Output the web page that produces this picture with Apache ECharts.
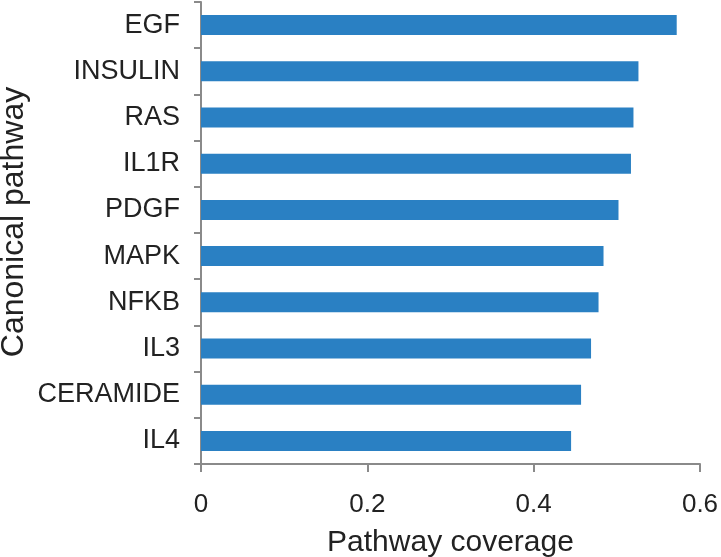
<!DOCTYPE html>
<html>
<head>
<meta charset="utf-8">
<script src="https://cdn.jsdelivr.net/npm/echarts@6/dist/echarts.min.js"></script>
<style>
	html, body { margin: 0; padding: 0; background: #fff; }
	#chart-container { width: 721px; height: 557px; }
</style>
</head>
<body>
<div id="chart-container"></div>
<script>
// categories listed bottom to top (category axis on y starts at the bottom)
const pathways = ['IL4', 'CERAMIDE', 'IL3', 'NFKB', 'MAPK', 'PDGF', 'IL1R', 'RAS', 'INSULIN', 'EGF'];
const coverage = [0.445, 0.457, 0.469, 0.478, 0.484, 0.502, 0.517, 0.52, 0.526, 0.572];
const xTicks = [0, 0.2, 0.4, 0.6];

let dom = document.getElementById('chart-container');
let myChart = echarts.init(dom, null, {
	renderer: 'canvas',
	useDirtyRect: false,
});

const axisGray = '#8a8a8a';
const textColor = '#222';
const fontFamily = '"Liberation Sans", Arial, sans-serif';

let option = {
	animation: false,
	textStyle: { fontFamily: fontFamily },
	grid: {
		left: 201,
		right: 21,
		top: 2,
		bottom: 93,
		containLabel: false,
		outerBoundsMode: 'none',
	},
	xAxis: {
		type: 'value',
		min: xTicks[0],
		max: xTicks[xTicks.length - 1],
		interval: 0.2,
		name: 'Pathway coverage',
		nameLocation: 'middle',
		nameGap: 64,
		nameMoveOverlap: false,
		nameTextStyle: { fontSize: 30, color: textColor, fontFamily: fontFamily },
		axisLine: { show: true, lineStyle: { color: axisGray, width: 2 } },
		axisTick: { show: true, length: 8, inside: false, lineStyle: { color: axisGray, width: 2 } },
		splitLine: { show: false },
		axisLabel: {
			fontSize: 26,
			color: textColor,
			margin: 28,
			fontFamily: fontFamily,
			formatter: function (v) {
				return v === 0 ? '0' : v.toFixed(1);
			},
		},
	},
	yAxis: {
		type: 'category',
		data: pathways,
		name: 'Canonical pathway',
		nameLocation: 'middle',
		nameGap: 171,
		nameMoveOverlap: false,
		nameTextStyle: {
			fontSize: 32,
			color: textColor,
			fontFamily: fontFamily,
			padding: [0, 0, 0, 22],
		},
		axisLine: { show: true, lineStyle: { color: axisGray, width: 2 } },
		axisTick: { show: true, length: 7, alignWithLabel: false, lineStyle: { color: axisGray, width: 2 } },
		axisLabel: { fontSize: 27, color: textColor, margin: 21, fontFamily: fontFamily },
	},
	series: [
		{
			type: 'bar',
			data: coverage,
			barWidth: 20,
			itemStyle: { color: '#2a80c3' },
		},
	],
};

myChart.setOption(option);
window.addEventListener('resize', myChart.resize);
</script>
</body>
</html>
